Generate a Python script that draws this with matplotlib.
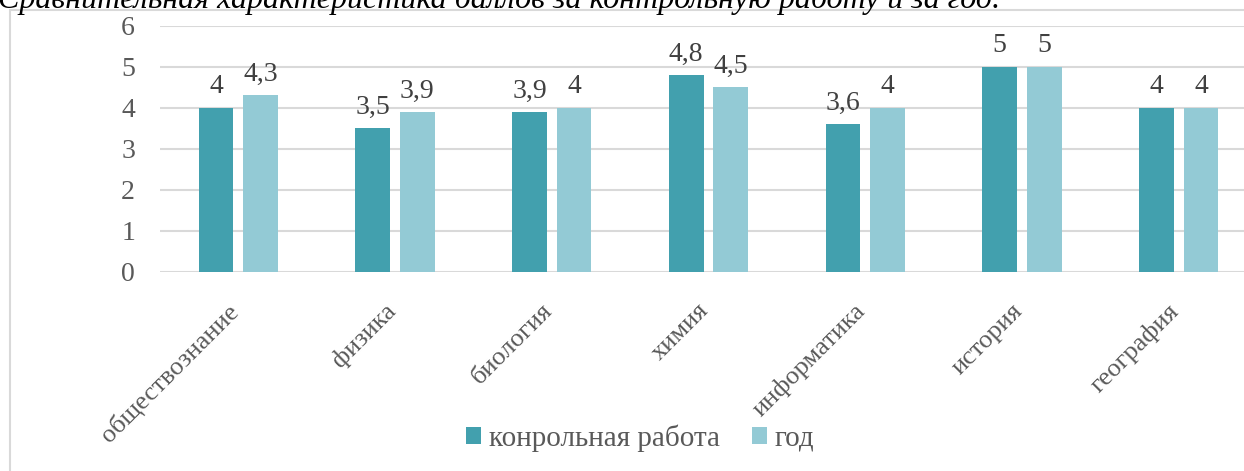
import matplotlib.pyplot as plt
import matplotlib.transforms as mtransforms
from matplotlib.patches import Rectangle

subjects = ['обществознание', 'физика', 'биология', 'химия',
            'информатика', 'история', 'география']
test_scores = [4.0, 3.5, 3.9, 4.8, 3.6, 5.0, 4.0]
year_scores = [4.3, 3.9, 4.0, 4.5, 4.0, 5.0, 4.0]
series_names = ['конрольная работа', 'год']
title = 'Сравнительная характеристика баллов за контрольную работу и за год.'

dark = '#42a0ae'
light = '#93cad5'
grid_col = '#d9d9d9'

plt.rcParams['font.family'] = ['Liberation Serif', 'DejaVu Serif']

W, H = 1244, 471
fig = plt.figure(figsize=(W / 100, H / 100), dpi=100)

# frame around the chart area (runs off the right and bottom edges)
fig.patches.append(Rectangle((10 / W, -0.2), 1.2, 0.2 + 1 - 10 / H,
                             transform=fig.transFigure, fill=False,
                             edgecolor=grid_col, linewidth=1.5, zorder=0))

fig.text(-2 / W, 1 - 8 / H, title, fontsize=23, style='italic',
         color='black', ha='left', va='baseline')

ax = fig.add_axes([160 / W, (H - 271.7) / H, 1097 / W, 246 / H])

x = list(range(len(subjects)))
bw = 0.222
off = 0.142
b1 = ax.bar([i - off for i in x], test_scores, bw, color=dark, label=series_names[0], zorder=2)
b2 = ax.bar([i + off for i in x], year_scores, bw, color=light, label=series_names[1], zorder=2)

fmt = lambda v: f'{v:g}'.replace('.', ',')
for bars, vals in ((b1, test_scores), (b2, year_scores)):
    for rect, v in zip(bars, vals):
        ax.annotate(fmt(v), (rect.get_x() + rect.get_width() / 2, v),
                    xytext=(0, 6), textcoords='offset points',
                    ha='center', va='bottom', fontsize=20, color='#404040')

ax.set_xlim(-0.5, len(subjects) - 0.5)
ax.set_ylim(0, 6)
ax.set_yticks(range(7))
ax.yaxis.grid(True, color=grid_col, linewidth=1.5, zorder=0)
ax.set_axisbelow(True)
for s in ax.spines.values():
    s.set_visible(False)
ax.tick_params(axis='both', length=0, colors='#595959', labelsize=20)
ax.tick_params(axis='y', pad=18)
ax.set_xticks(x)
ax.set_xticklabels(subjects, rotation=45, ha='right', fontsize=19)
ax.tick_params(axis='x', pad=20)
shift = mtransforms.ScaledTranslation(5 / 100, 0, fig.dpi_scale_trans)
for lbl in ax.get_xticklabels():
    lbl.set_transform(lbl.get_transform() + shift)

fig.legend(loc='center', bbox_to_anchor=(640 / W, (H - 438) / H), ncol=2,
           frameon=False, fontsize=21, handlelength=0.52, handleheight=0.52,
           handletextpad=0.25, columnspacing=1.1, labelcolor='#595959')

fig.savefig('out.png', dpi=100)
